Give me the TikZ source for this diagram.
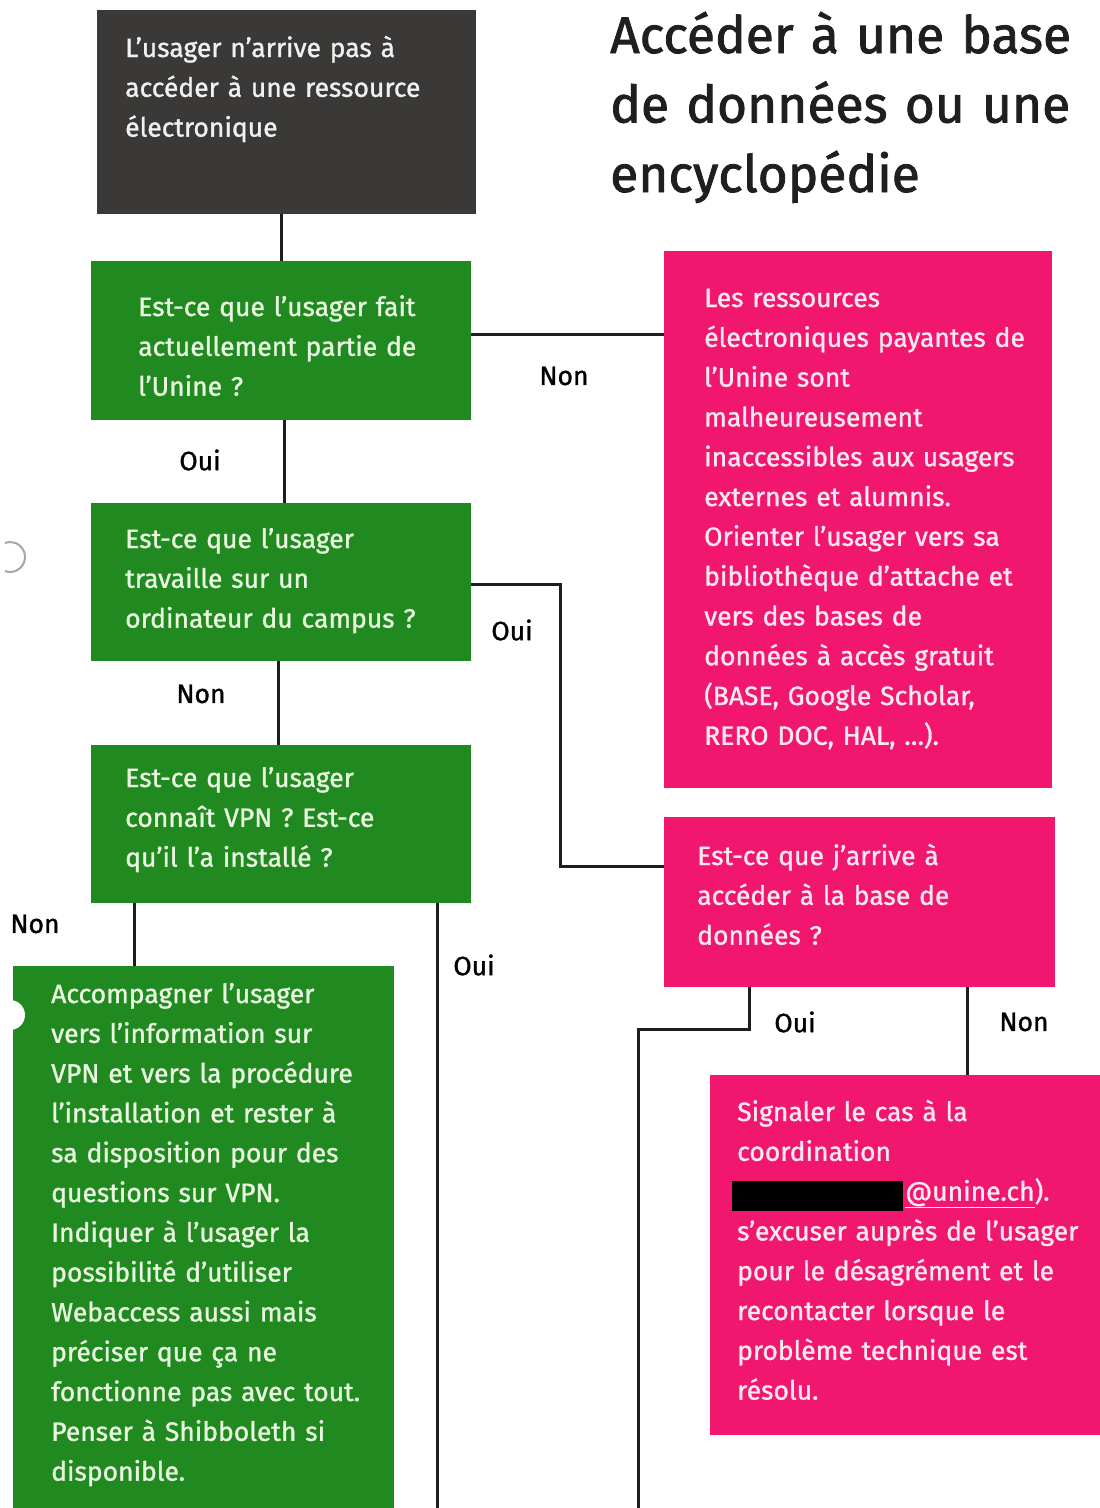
\documentclass[tikz,border=0pt]{standalone}
\usepackage{fontspec}
\setmainfont{Fira Sans}[FakeBold=1.2]
\newfontfamily\titlefont{Fira Sans}[FakeBold=1.6]
\definecolor{darkbox}{RGB}{58,57,55}
\definecolor{greenbox}{RGB}{32,138,32}
\definecolor{pinkbox}{RGB}{241,22,110}
\definecolor{greentext}{RGB}{232,246,224}
\definecolor{pinktext}{RGB}{253,232,240}
\definecolor{greytext}{RGB}{240,240,240}
\definecolor{linecol}{RGB}{30,30,30}
\begin{document}
\begin{tikzpicture}[x=1pt,y=-1pt,
  boxshape/.style={rectangle,anchor=north west,inner sep=0pt,draw=none},
  btext/.style={anchor=base west,inner sep=0pt,text width=420pt,align=left,
    font=\fontsize{26.5}{39.8}\selectfont},
  lbl/.style={inner sep=0pt,text=black,font=\fontsize{26.5}{30}\selectfont},
  conn/.style={draw=linecol,line width=3pt},
  titletext/.style={anchor=base west,inner sep=0pt,text width=560pt,align=left,
    font=\titlefont\fontsize{51.5}{69.5}\selectfont,text=black!88}
]
\useasboundingbox (0,0) rectangle (1100,1508);
\fill[white] (0,0) rectangle (1100,1508);

% boxes
\node[boxshape,fill=darkbox,minimum width=379pt,minimum height=204pt] (b0) at (97,10) {};
\node[boxshape,fill=greenbox,minimum width=380pt,minimum height=159pt] (g1) at (91,261) {};
\node[boxshape,fill=greenbox,minimum width=380pt,minimum height=158pt] (g2) at (91,503) {};
\node[boxshape,fill=greenbox,minimum width=380pt,minimum height=158pt] (g3) at (91,745) {};
\node[boxshape,fill=greenbox,minimum width=381pt,minimum height=542pt] (g4) at (13,966) {};
\node[boxshape,fill=pinkbox,minimum width=388pt,minimum height=537pt] (p1) at (664,251) {};
\node[boxshape,fill=pinkbox,minimum width=391pt,minimum height=170pt] (p2) at (664,817) {};
\node[boxshape,fill=pinkbox,minimum width=390pt,minimum height=360pt] (p3) at (710,1075) {};

% punch-hole marks of the scan
\draw[black!35,line width=2pt] (10,557) ++(110:15) arc[start angle=110,end angle=-110,radius=15];
\fill[white] (10,1015) circle[radius=15];

% texts
\node[btext,text=greytext] (t0) at (125,57) {L’usager n’arrive pas à\\accéder à une ressource\\électronique};
\node[btext,text=greentext] (t1) at (138,316) {Est-ce que l’usager fait\\actuellement partie de\\l’Unine ?};
\node[btext,text=greentext] (t2) at (125,548) {Est-ce que l’usager\\travaille sur un\\ordinateur du campus ?};
\node[btext,text=greentext] (t3) at (125,787) {Est-ce que l’usager\\connaît VPN ? Est-ce\\qu’il l’a installé ?};
\node[btext,text=greentext] (t4) at (51,1003) {Accompagner l’usager\\vers l’information sur\\VPN et vers la procédure\\l’installation et rester à\\sa disposition pour des\\questions sur VPN.\\Indiquer à l’usager la\\possibilité d’utiliser\\Webaccess aussi mais\\préciser que ça ne\\fonctionne pas avec tout.\\Penser à Shibboleth si\\disponible.};
\node[btext,text=pinktext] (t5) at (704,307) {Les ressources\\électroniques payantes de\\l’Unine sont\\malheureusement\\inaccessibles aux usagers\\externes et alumnis.\\Orienter l’usager vers sa\\bibliothèque d’attache et\\vers des bases de\\données à accès gratuit\\(BASE, Google Scholar,\\RERO DOC, HAL, …).};
\node[btext,text=pinktext] (t6) at (697,865) {Est-ce que j’arrive à\\accéder à la base de\\données ?};
\node[btext,text=pinktext] (t7) at (737,1121) {Signaler le cas à la\\coordination\\\hspace*{-5pt}\textcolor{black}{\rule[-10pt]{171pt}{30pt}}\hspace{2pt}\underline{@unine.ch}).\\s’excuser auprès de l’usager\\pour le désagrément et le\\recontacter lorsque le\\problème technique est\\résolu.};

% title
\node[titletext] (title) at (610,53) {Accéder à une base\\de données ou une\\encyclopédie};

% free ends
\coordinate (end1) at (437,1508);
\coordinate (end2) at (638,1508);

% connectors
\draw[conn] (b0.south -| 281,0) -- (g1.north -| 281,0);
\draw[conn] (g1.south -| 284,0) -- (g2.north -| 284,0);
\draw[conn] (g1.east |- 0,334) -- (p1.west |- 0,334);
\draw[conn] (g2.east |- 0,584) -| (560,700) |- (p2.west |- 0,866);
\draw[conn] (g2.south -| 278,0) -- (g3.north -| 278,0);
\draw[conn] (g3.south -| 134,0) -- (g4.north -| 134,0);
\draw[conn] (g3.south -| 437,0) -- (end1);
\draw[conn] (p2.south -| 749,0) -- (749,1029) -| (end2);
\draw[conn] (p2.south -| 967,0) -- (p3.north -| 967,0);

% labels
\node[lbl] (l1) at (200,460) {Oui};
\node[lbl] (l2) at (564,376) {Non};
\node[lbl] (l3) at (512,630) {Oui};
\node[lbl] (l4) at (201,694) {Non};
\node[lbl] (l5) at (35,924) {Non};
\node[lbl] (l6) at (474,965) {Oui};
\node[lbl] (l7) at (795,1022) {Oui};
\node[lbl] (l8) at (1024,1022) {Non};
\end{tikzpicture}
\end{document}
